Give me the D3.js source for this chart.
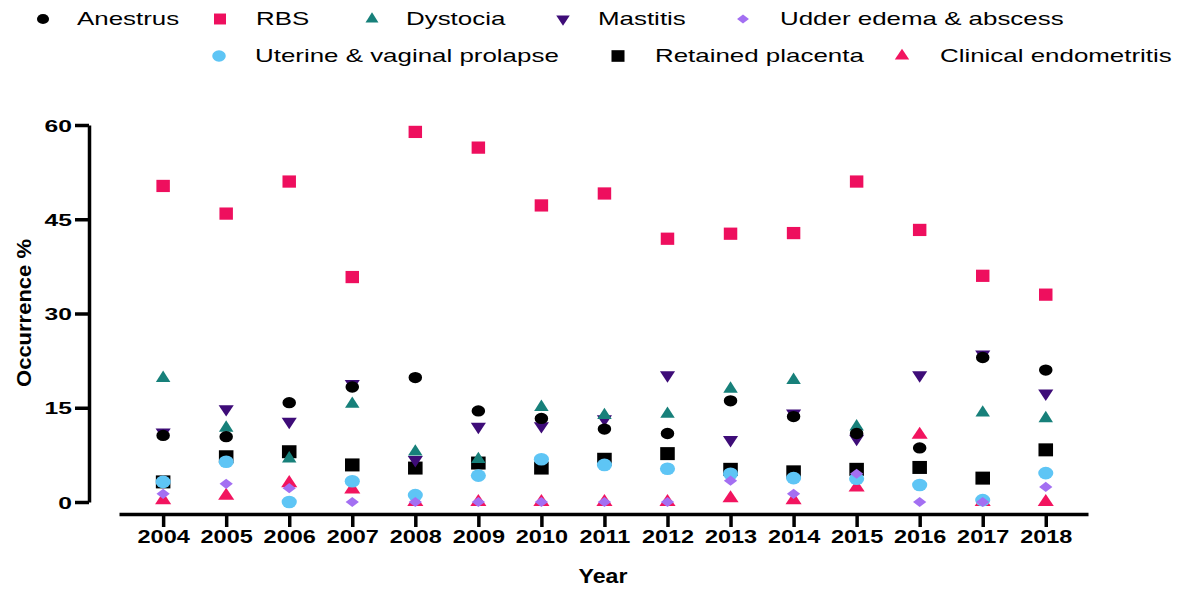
<!DOCTYPE html>
<html><head><meta charset="utf-8">
<script src="https://cdn.jsdelivr.net/npm/d3@7"></script>
<style>
body{margin:0;background:#fff}
svg{display:block}
text{font-family:"Liberation Sans",Arial,sans-serif;fill:#000}
</style>
</head><body>
<svg id="c" width="1181" height="590"></svg>
<script>
// ---- data ----
const years = [2004,2005,2006,2007,2008,2009,2010,2011,2012,2013,2014,2015,2016,2017,2018];
const anestrus  = [10.6,10.4,15.8,18.3,19.8,14.5,13.3,11.6,10.9,16.1,13.6,10.9,8.6,23.0,21.0];
const rbs       = [50.3,45.9,51.0,35.8,58.9,56.4,47.2,49.1,41.9,42.7,42.8,51.0,43.3,36.0,33.0];
const dystocia  = [19.7,11.8,6.9,15.6,8.0,6.8,15.1,13.8,14.0,18.0,19.4,12.0,null,14.2,13.3];
const mastitis  = [11.1,14.8,12.8,18.8,6.7,12.0,12.1,13.2,20.2,9.9,14.1,10.1,20.2,23.5,17.3];
const udder     = [1.3,2.9,2.2,0,0,0,0,0,0,3.4,1.3,4.5,0,0,2.4];
const uterine   = [3.2,6.4,0,3.3,1.1,4.2,6.8,5.9,5.3,4.5,3.8,3.7,2.7,0.3,4.6];
const retained  = [3.2,7.2,8.0,5.9,5.4,6.2,5.4,6.8,7.7,5.2,4.8,5.2,5.5,3.8,8.3];
const clinical  = [0.3,1.0,3.0,2.0,0,0,0,0,0,0.6,0.3,2.3,10.7,0,0];
const yTicks = [0,15,30,45,60];
const seriesNames = ["Anestrus","RBS","Dystocia","Mastitis","Udder edema & abscess","Uterine & vaginal prolapse","Retained placenta","Clinical endometritis"];

// ---- styles ----
const styles = {
  "Anestrus":{type:d3.symbolCircle,size:100,rot:0,sx:1.2,color:"#000000",data:anestrus},
  "RBS":{type:d3.symbolSquare,size:150,rot:0,sx:1.1,color:"#ee0f5e",data:rbs},
  "Dystocia":{type:d3.symbolTriangle,size:75,rot:0,sx:1.1,color:"#17807a",data:dystocia},
  "Mastitis":{type:d3.symbolTriangle,size:75,rot:180,sx:1.15,color:"#3e0c78",data:mastitis},
  "Udder edema & abscess":{type:d3.symbolSquare,size:52,rot:45,sx:1.3,color:"#a36ff2",data:udder},
  "Uterine & vaginal prolapse":{type:d3.symbolCircle,size:125,rot:0,sx:1.2,color:"#5ec5f5",data:uterine},
  "Retained placenta":{type:d3.symbolSquare,size:169,rot:0,sx:1.12,color:"#000000",data:retained},
  "Clinical endometritis":{type:d3.symbolTriangle,size:85,rot:0,sx:1.15,color:"#f2145f",data:clinical}
};

const svg = d3.select("#c");
const x = d3.scaleLinear().domain([2003.3,2018.67]).range([119,1088]);
const y = d3.scaleLinear().domain([0,60]).range([502,125]);

// ---- y axis ----
const gy = svg.append("g").attr("transform","translate(89,0)")
  .call(d3.axisLeft(y).tickValues(yTicks).tickSize(14).tickSizeOuter(0));
gy.select(".domain").attr("stroke","#000").attr("stroke-width",3.5);
gy.selectAll(".tick line").attr("stroke","#000").attr("stroke-width",3.5);
gy.selectAll(".tick text")
  .attr("x",-17/1.45).attr("dy","0.36em")
  .attr("transform","scale(1.45,1)")
  .style("font-size","17px").style("font-weight","bold");

// ---- x axis ----
const gx = svg.append("g").attr("transform","translate(0,514)")
  .call(d3.axisBottom(x).tickValues(years).tickFormat(d3.format("d")).tickSize(13).tickSizeOuter(0));
gx.select(".domain").attr("stroke","#000").attr("stroke-width",3.5);
gx.selectAll(".tick line").attr("stroke","#000").attr("stroke-width",3.5);
gx.selectAll(".tick text")
  .attr("y",29).attr("dy",null)
  .attr("transform","scale(1.27,1)")
  .style("font-size","18.5px").style("font-weight","bold");

// ---- axis titles ----
svg.append("text").attr("transform","translate(603,583) scale(1.1,1)")
  .attr("text-anchor","middle").style("font-size","21px").style("font-weight","bold").text("Year");
svg.append("text").attr("transform","translate(31,313) rotate(-90) scale(1.1,1)")
  .attr("text-anchor","middle").style("font-size","20px").style("font-weight","bold").text("Occurrence %");

// ---- points (drawn in reverse legend order) ----
const drawOrder = seriesNames.slice().reverse();
drawOrder.forEach(name => {
  const s = styles[name];
  const pts = years.map((yr,i)=>({yr, v:s.data[i]})).filter(d=>d.v!==null);
  svg.append("g").selectAll("path").data(pts).join("path")
    .attr("d", d3.symbol().type(s.type).size(s.size)())
    .attr("transform", d=>`translate(${x(d.yr)},${y(d.v)}) scale(${s.sx},1) rotate(${s.rot})`)
    .attr("fill", s.color);
});

// ---- legend ----
const legendPos = [
  {m:43,t:77,y:19},{m:220,t:256,y:19},{m:372,t:406,y:19},{m:563,t:598,y:19},{m:743,t:780,y:19},
  {m:219,t:255,y:56},{m:618,t:655,y:56},{m:902,t:940,y:56}
];
seriesNames.forEach((name,i)=>{
  const s = styles[name], p = legendPos[i];
  svg.append("path")
    .attr("d", d3.symbol().type(s.type).size(s.size*0.8)())
    .attr("transform", `translate(${p.m},${p.y}) scale(${s.sx},1) rotate(${s.rot})`)
    .attr("fill", s.color);
  svg.append("text")
    .attr("transform", `translate(${p.t},${p.y}) scale(1.44,1)`)
    .attr("dy","0.36em")
    .style("font-size","18px")
    .text(name);
});
</script>
</body></html>
